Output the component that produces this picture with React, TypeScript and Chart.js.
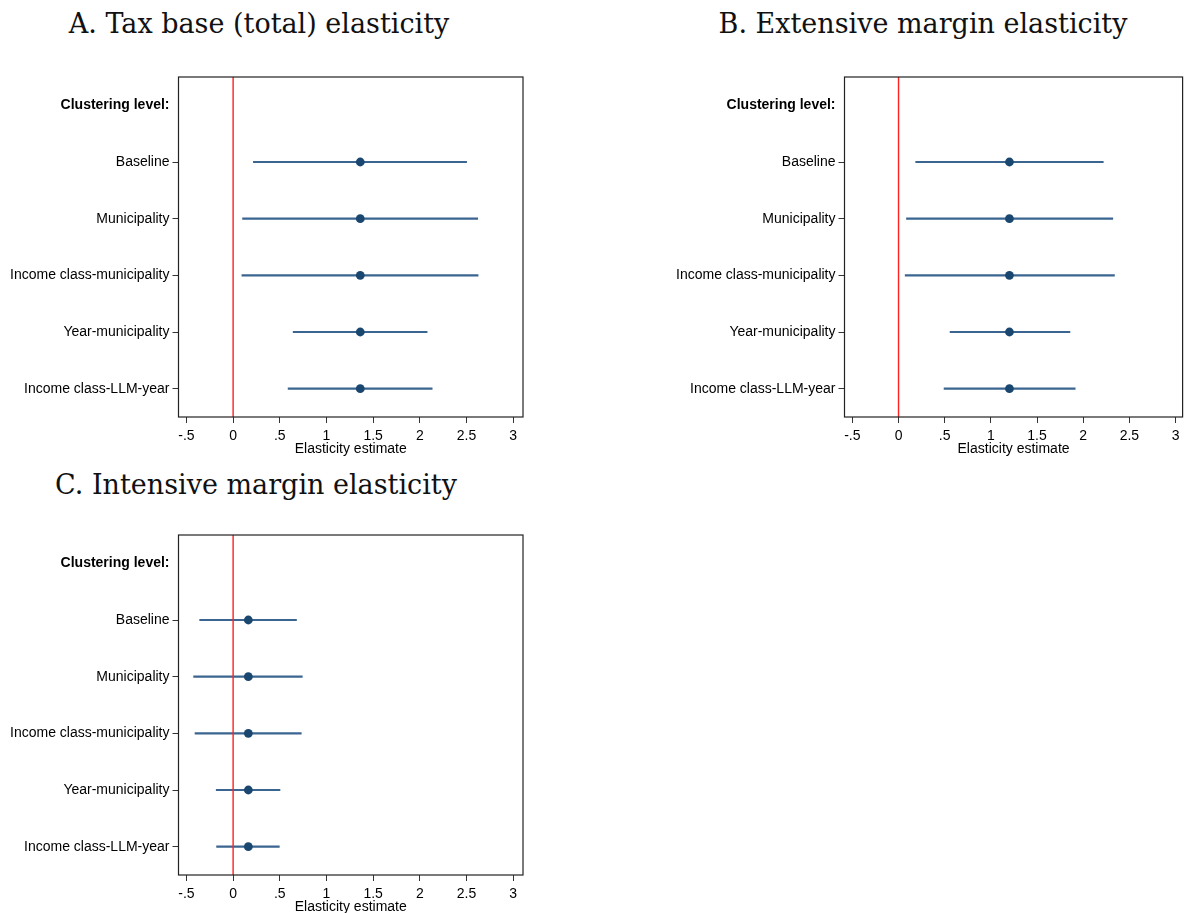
import React, { useEffect, useRef } from "react";
import { Chart, registerables } from "chart.js";

Chart.register(...registerables);

// ---------- data ----------
const categories = [
  "Clustering level:",
  "Baseline",
  "Municipality",
  "Income class-municipality",
  "Year-municipality",
  "Income class-LLM-year",
];

const xTickValues = [-0.5, 0, 0.5, 1, 1.5, 2, 2.5, 3];
const xTickLabels = ["-.5", "0", ".5", "1", "1.5", "2", "2.5", "3"];
const xAxisTitle = "Elasticity estimate";

const titleA = "A. Tax base (total) elasticity";
const titleB = "B. Extensive margin elasticity";
const titleC = "C. Intensive margin elasticity";

const estimateA = [null, 1.362, 1.362, 1.362, 1.362, 1.362];
const lowerA = [null, 0.217, 0.101, 0.094, 0.643, 0.589];
const upperA = [null, 2.501, 2.62, 2.624, 2.078, 2.132];

const estimateB = [null, 1.201, 1.201, 1.201, 1.201, 1.201];
const lowerB = [null, 0.186, 0.086, 0.072, 0.558, 0.493];
const upperB = [null, 2.217, 2.32, 2.338, 1.856, 1.913];

const estimateC = [null, 0.163, 0.163, 0.163, 0.163, 0.163];
const lowerC = [null, -0.358, -0.423, -0.408, -0.181, -0.177];
const upperC = [null, 0.679, 0.741, 0.73, 0.502, 0.495];

// ---------- styling / layout ----------
const FONT = "'Liberation Sans', Arial, sans-serif";
const DOT = "#1a476f";
const BAR = "#3a6590";
const X_HEIGHT = 41;

type Box = { left: number; top: number; width: number; height: number };
type Area = { l: number; t: number; r: number; b: number };

const boxPlugin = {
  id: "plotBox",
  afterDraw(chart: any) {
    const { ctx, chartArea } = chart;
    ctx.save();
    ctx.strokeStyle = "#222";
    ctx.lineWidth = 1.2;
    ctx.strokeRect(
      chartArea.left,
      chartArea.top,
      chartArea.right - chartArea.left,
      chartArea.bottom - chartArea.top
    );
    ctx.restore();
  },
};

const zeroLinePlugin = {
  id: "zeroLine",
  afterDatasetsDraw(chart: any) {
    const { ctx, chartArea, scales } = chart;
    const x = scales.x.getPixelForValue(0);
    ctx.save();
    ctx.strokeStyle = "#ff2020";
    ctx.lineWidth = 1.4;
    ctx.beginPath();
    ctx.moveTo(x, chartArea.top);
    ctx.lineTo(x, chartArea.bottom);
    ctx.stroke();
    ctx.restore();
  },
};

function Panel(props: {
  box: Box;
  area: Area;
  xMin: number;
  xMax: number;
  est: (number | null)[];
  lo: (number | null)[];
  hi: (number | null)[];
}) {
  const ref = useRef<HTMLCanvasElement | null>(null);
  const { box, area, xMin, xMax, est, lo, hi } = props;

  useEffect(() => {
    if (!ref.current) return;
    const yWidth = area.l - box.left;
    const padTop = area.t - box.top;
    const padRight = box.left + box.width - area.r;
    const padBottom = box.top + box.height - area.b - X_HEIGHT;
    const chart = new Chart(ref.current, {
      type: "bar",
      data: {
        labels: categories,
        datasets: [
          {
            type: "bar",
            data: lo.map((l, i) => (l == null ? null : [l, hi[i] as number])) as any,
            backgroundColor: BAR,
            borderWidth: 0,
            barThickness: 1.5,
            order: 2,
          } as any,
          {
            type: "line",
            indexAxis: "y",
            data: est as any,
            showLine: false,
            pointRadius: 4.4,
            pointBackgroundColor: DOT,
            pointBorderColor: DOT,
            pointBorderWidth: 0,
            order: 1,
          } as any,
        ],
      },
      options: {
        indexAxis: "y",
        responsive: false,
        animation: false,
        devicePixelRatio: 1,
        layout: {
          padding: { top: padTop, right: padRight, bottom: padBottom, left: 0 },
        },
        plugins: {
          legend: { display: false },
          tooltip: { enabled: false },
          title: { display: false },
        },
        scales: {
          x: {
            type: "linear",
            min: xMin,
            max: xMax,
            afterBuildTicks: (s: any) => {
              s.ticks = xTickValues.map((v) => ({ value: v }));
            },
            afterFit: (s: any) => {
              s.height = X_HEIGHT;
            },
            ticks: {
              callback: (_v: any, i: number) => xTickLabels[i],
              color: "#000",
              font: { family: FONT, size: 14 },
              padding: 5,
              maxRotation: 0,
              autoSkip: false,
            },
            grid: {
              display: true,
              drawOnChartArea: false,
              drawTicks: true,
              tickLength: 6,
              tickColor: "#333",
              tickWidth: 1,
            },
            border: { display: false },
            title: {
              display: true,
              text: xAxisTitle,
              color: "#000",
              font: { family: FONT, size: 14 },
              padding: 0,
            },
          },
          y: {
            type: "category",
            offset: true,
            afterFit: (s: any) => {
              s.width = yWidth;
            },
            ticks: {
              color: "#000",
              padding: 3,
              autoSkip: false,
              font: (ctx: any) => ({
                family: FONT,
                size: 14,
                weight: ctx.index === 0 ? "bold" : "normal",
              }),
            },
            grid: {
              display: true,
              offset: false,
              drawOnChartArea: false,
              drawTicks: true,
              tickLength: 6,
              tickWidth: 1,
              tickColor: (ctx: any) => (ctx.index === 0 ? "rgba(0,0,0,0)" : "#333"),
            },
            border: { display: false },
          },
        },
      } as any,
      plugins: [boxPlugin, zeroLinePlugin],
    });
    return () => chart.destroy();
  }, []);

  return (
    <canvas
      ref={ref}
      width={box.width}
      height={box.height}
      style={{
        position: "absolute",
        left: box.left,
        top: box.top,
        width: box.width,
        height: box.height,
        display: "block",
      }}
    />
  );
}

function Title(props: { text: string; center: number; top: number }) {
  return (
    <div
      style={{
        position: "absolute",
        left: props.center - 300,
        top: props.top,
        width: 600,
        textAlign: "center",
        whiteSpace: "nowrap",
        fontFamily: "'DejaVu Serif', serif",
        fontSize: 27,
        lineHeight: "27px",
        color: "#111",
      }}
    >
      {props.text}
    </div>
  );
}

export default function App() {
  return (
    <div
      style={{
        position: "absolute",
        left: 0,
        top: 0,
        width: 1187,
        height: 913,
        overflow: "hidden",
        background: "#fff",
      }}
    >
      <Title text={titleA} center={259} top={10} />
      <Title text={titleB} center={923} top={10} />
      <Title text={titleC} center={256} top={471} />
      <Panel
        box={{ left: 0, top: 40, width: 540, height: 432 }}
        area={{ l: 178.5, t: 77, r: 523, b: 417 }}
        xMin={-0.585}
        xMax={3.105}
        est={estimateA}
        lo={lowerA}
        hi={upperA}
      />
      <Panel
        box={{ left: 665, top: 40, width: 522, height: 432 }}
        area={{ l: 844.5, t: 77, r: 1186, b: 417 }}
        xMin={-0.585}
        xMax={3.076}
        est={estimateB}
        lo={lowerB}
        hi={upperB}
      />
      <Panel
        box={{ left: 0, top: 496, width: 540, height: 421 }}
        area={{ l: 178.5, t: 535, r: 523, b: 875 }}
        xMin={-0.585}
        xMax={3.105}
        est={estimateC}
        lo={lowerC}
        hi={upperC}
      />
    </div>
  );
}
